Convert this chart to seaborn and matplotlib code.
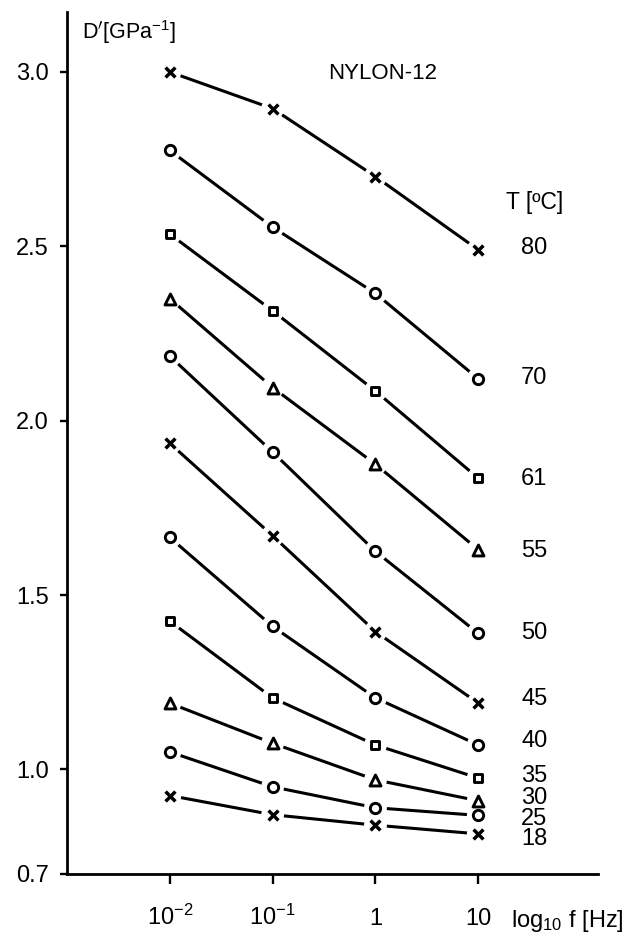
import matplotlib
matplotlib.use("Agg")
import matplotlib.pyplot as plt
import seaborn as sns
import pandas as pd

# ---- data ----
freq = [0.01, 0.1, 1.0, 10.0]
temps = ["80", "70", "61", "55", "50", "45", "40", "35", "30", "25", "18"]
markers = ["x", "o", "s", "^", "o", "x", "o", "s", "^", "o", "x"]
d80 = [3.00, 2.895, 2.70, 2.49]
d70 = [2.775, 2.555, 2.365, 2.12]
d61 = [2.535, 2.315, 2.085, 1.835]
d55 = [2.35, 2.095, 1.875, 1.63]
d50 = [2.185, 1.91, 1.625, 1.39]
d45 = [1.935, 1.67, 1.395, 1.19]
d40 = [1.665, 1.41, 1.205, 1.07]
d35 = [1.425, 1.205, 1.07, 0.975]
d30 = [1.19, 1.075, 0.97, 0.91]
d25 = [1.05, 0.95, 0.89, 0.868]
d18 = [0.925, 0.87, 0.84, 0.815]
series = [d80, d70, d61, d55, d50, d45, d40, d35, d30, d25, d18]
label_y = [2.494, 2.121, 1.833, 1.626, 1.391, 1.201, 1.080, 0.980, 0.917, 0.859, 0.799]
yticks = [0.7, 1.0, 1.5, 2.0, 2.5, 3.0]
ytick_labels = ["0.7", "1.0", "1.5", "2.0", "2.5", "3.0"]
xtick_labels = [r"$\mathregular{10^{-2}}$", r"$\mathregular{10^{-1}}$", "1", "10"]

sns.set_style("ticks")
plt.rcParams["font.family"] = ["Liberation Sans", "DejaVu Sans"]
plt.rcParams.update({
    "text.color": "black", "axes.labelcolor": "black",
    "xtick.color": "black", "ytick.color": "black",
    "axes.edgecolor": "black",
})

fig = plt.figure(figsize=(6.34, 9.36), dpi=100)
ax = fig.add_axes([67 / 634, 62 / 936, 531 / 634, 862 / 936])

for vals, m in zip(series, markers):
    df = pd.DataFrame({"f": freq, "D": vals})
    sns.lineplot(data=df, x="f", y="D", ax=ax, color="black", lw=2.2, zorder=2)
    # white halo to create the gap between line and marker
    sns.scatterplot(data=df, x="f", y="D", ax=ax, marker="o", s=270,
                    color="white", edgecolor="none", linewidth=0, zorder=3)
    if m == "x":
        sns.scatterplot(data=df, x="f", y="D", ax=ax, marker="x", s=50,
                        color="black", linewidth=2.5, zorder=4)
    else:
        size = {"o": 55, "s": 36, "^": 62}[m]
        sns.scatterplot(data=df, x="f", y="D", ax=ax, marker=m, s=size,
                        facecolor="white", edgecolor="black", linewidth=2.1, zorder=4)

ax.set_xscale("log")
ax.set_xlim(1e-3, 146)
ax.set_ylim(0.7, 3.172)
ax.set_xticks(freq)
ax.set_xticklabels(xtick_labels)
ax.minorticks_off()
ax.set_yticks(yticks)
ax.set_yticklabels(ytick_labels)
ax.set_xlabel("")
ax.set_ylabel("")

for side in ["top", "right"]:
    ax.spines[side].set_visible(False)
for side in ["left", "bottom"]:
    ax.spines[side].set_linewidth(2.0)
ax.tick_params(axis="x", direction="out", length=7, width=1.7, pad=30, labelsize=17)
ax.tick_params(axis="y", direction="out", length=5, width=1.7, pad=8, labelsize=17)
for lab in ax.get_xticklabels():
    lab.set_verticalalignment("baseline")

# annotations
ax.text(0.028, 0.977, r"D$'$[GPa$^{\mathregular{-1}}$]", transform=ax.transAxes,
        fontsize=15.5, ha="left", va="center")
ax.text(1.17, 2.997, "NYLON-12", fontsize=16, ha="center", va="center")
ax.text(35, 2.626, "T [ºC]", fontsize=16.5, ha="center", va="center")
for t, yv in zip(temps, label_y):
    ax.text(35, yv, t, fontsize=17, ha="center", va="center")

fig.text(511 / 634, (936 - 927) / 936, r"$\mathregular{log_{10}}$ f [Hz]",
         fontsize=17, ha="left", va="baseline")

fig.savefig("out.png", dpi=100)
